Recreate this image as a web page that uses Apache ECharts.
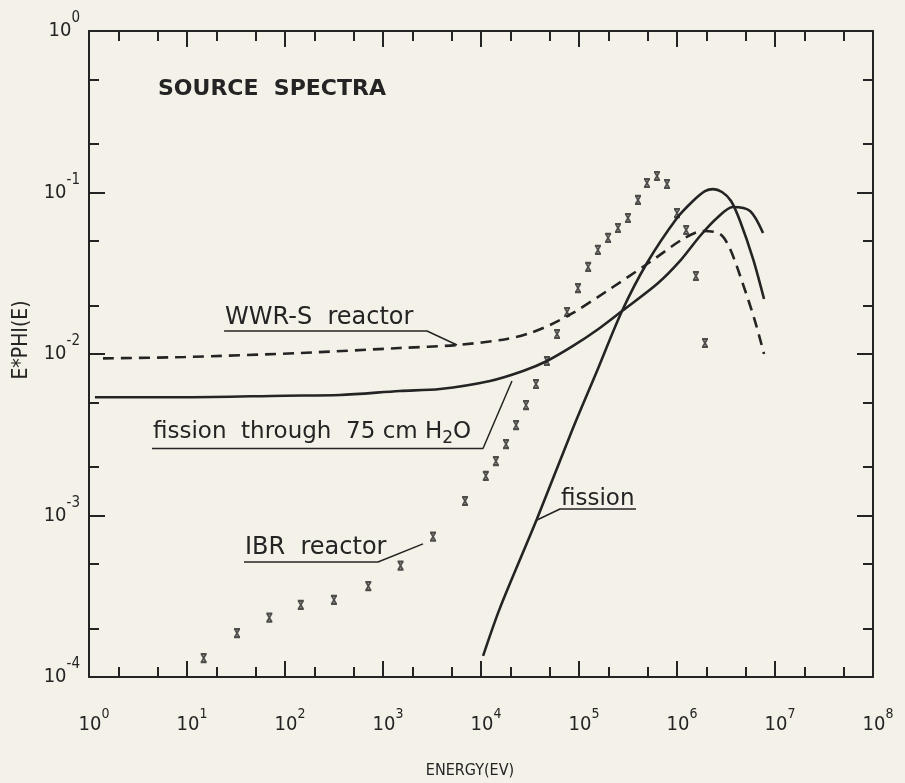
<!DOCTYPE html>
<html>
<head>
<meta charset="utf-8">
<script src="https://cdn.jsdelivr.net/npm/echarts@6/dist/echarts.min.js"></script>
<style>
  html, body { margin: 0; padding: 0; background: #f4f1e8; }
  #chart { width: 905px; height: 783px; }
</style>
</head>
<body>
<div id="chart"></div>
<script>
// ---- axis decades and tick positions ----
const xExponents = [0, 1, 2, 3, 4, 5, 6, 7, 8];
const yExponents = [-4, -3, -2, -1, 0];
const xMinorTicks = [2, 5, 20, 50, 200, 500, 2e3, 5e3, 2e4, 5e4, 2e5, 5e5, 2e6, 5e6, 2e7, 5e7];
const yMinorTicks = [2e-4, 5e-4, 2e-3, 5e-3, 2e-2, 5e-2, 0.2, 0.5];

// ---- fission spectrum through 75 cm of water (solid) ----
const waterE   = [1.15, 10, 100, 363, 1480, 3820, 12360, 26850, 47100, 86900, 152700, 274800, 625000, 1.074e6, 1.718e6, 2.56e6, 3.72e6, 5.56e6, 7.55e6];
const waterPhi = [0.0054, 0.0054, 0.00552, 0.00557, 0.0059, 0.00607, 0.00681, 0.00785, 0.00905, 0.01122, 0.01408, 0.01846, 0.0271, 0.0377, 0.0538, 0.0695, 0.0813, 0.0768, 0.0561];

// ---- bare fission spectrum (solid) ----
const fissionE   = [1.05e4, 1.56e4, 3.72e4, 86900, 152700, 274800, 494000, 1.0e6, 1.456e6, 1.93e6, 2.33e6, 2.88e6, 3.56e6, 4.40e6, 5.97e6, 7.73e6];
const fissionPhi = [1.35e-4, 2.67e-4, 9.5e-4, 3.48e-3, 7.85e-3, 0.01846, 0.0366, 0.0695, 0.0886, 0.102, 0.105, 0.1007, 0.0886, 0.0666, 0.0388, 0.0219];

// ---- WWR-S reactor spectrum (dashed) ----
const wwrE   = [1.39, 9.5, 141, 1480, 5690, 18400, 31600, 50600, 86900, 193000, 530000, 1.15e6, 1.84e6, 2.75e6, 3.48e6, 4.71e6, 6.25e6, 7.73e6];
const wwrPhi = [0.0094, 0.00958, 0.01014, 0.01089, 0.01137, 0.01239, 0.01349, 0.01512, 0.01795, 0.02455, 0.0371, 0.0515, 0.0578, 0.0553, 0.0447, 0.0271, 0.016, 0.01];

// ---- IBR reactor spectrum (points) ----
const ibrE   = [14.8, 32.4, 69.2, 145, 316, 708, 1510, 3240, 6870, 1.12e4, 1.42e4, 1.80e4, 2.28e4, 2.88e4, 3.64e4, 4.71e4, 5.97e4, 7.55e4, 9.77e4, 1.24e5, 1.56e5, 1.98e5, 2.50e5, 3.16e5, 4.0e5, 4.94e5, 6.25e5, 7.91e5, 1.0e6, 1.24e6, 1.56e6, 1.93e6];
const ibrPhi = [1.31e-4, 1.87e-4, 2.33e-4, 2.8e-4, 3.0e-4, 3.65e-4, 4.9e-4, 7.4e-4, 1.23e-3, 1.76e-3, 2.17e-3, 2.77e-3, 3.63e-3, 4.83e-3, 6.52e-3, 9.05e-3, 1.33e-2, 1.82e-2, 2.56e-2, 3.46e-2, 4.41e-2, 5.23e-2, 6.03e-2, 6.95e-2, 8.99e-2, 0.1145, 0.1265, 0.1129, 0.0746, 0.0586, 0.0304, 0.0117];

// ---- curve captions: underline + leader to the curve, in data units ----
const wwrLeader     = [[23.9, 0.01387], [2812, 0.01387], [5690, 0.01137]];
const waterLeader   = [[4.39, 2.6e-3], [10480, 2.6e-3], [20700, 6.81e-3]];
const ibrLeader     = [[38.2, 5.15e-4], [889, 5.15e-4], [2559, 6.67e-4]];
const fissionLeader = [[63970, 1.097e-3], [381900, 1.097e-3], [63970, 1.097e-3], [37250, 9.38e-4]];

const ink = '#242424';
const paper = '#f4f1e8';
const numFont = "'Liberation Sans Narrow','DejaVu Sans Condensed','Liberation Sans',sans-serif";
const textFont = "'DejaVu Sans',sans-serif";

const pairs = (xs, ys) => xs.map((x, i) => [x, ys[i]]);

function powerLabel(exponents) {
  return v => {
    const e = Math.round(Math.log10(v));
    return exponents.indexOf(e) >= 0 ? '{b|10}{s|' + e + '}' : '';
  };
}

const frame = { color: ink, width: 2 };

function logAxis(pos, min, max, split, label) {
  return {
    type: 'log', logBase: 10, min: min, max: max, position: pos, splitNumber: split,
    axisLine: { show: true, onZero: false, lineStyle: frame },
    axisTick: { show: true, inside: true, length: 16, lineStyle: frame },
    minorTick: { show: false },
    splitLine: { show: false },
    axisLabel: label || { show: false }
  };
}

function minorAxis(pos, min, max, values) {
  return {
    type: 'value', min: min, max: max, position: pos,
    axisLine: { show: false, onZero: false },
    axisTick: { show: true, inside: true, length: 10, lineStyle: frame,
                customValues: values.map(v => Math.log10(v)) },
    axisLabel: { show: false },
    splitLine: { show: false }
  };
}

const xLabel = {
  show: true, margin: 30, showMinLabel: true, showMaxLabel: true,
  formatter: powerLabel(xExponents),
  padding: [0, 0, 0, 10],
  rich: {
    b: { fontFamily: numFont, fontSize: 20, color: ink, lineHeight: 36 },
    s: { fontFamily: numFont, fontSize: 14, color: ink, lineHeight: 14, verticalAlign: 'top' }
  }
};
const yLabel = {
  show: true, margin: 9, showMinLabel: true, showMaxLabel: true,
  formatter: powerLabel(yExponents),
  rich: {
    b: { fontFamily: numFont, fontSize: 20, color: ink, lineHeight: 40 },
    s: { fontFamily: numFont, fontSize: 15, color: ink, lineHeight: 12, verticalAlign: 'top' }
  }
};

const xSymbol = 'path://M0,0L8,0M1,0L7,10M7,0L1,10M0,10L8,10';

function leaderSeries(path) {
  return {
    type: 'line', xAxisIndex: 0, yAxisIndex: 0, data: path,
    showSymbol: false, symbol: 'none', silent: true, smooth: false,
    lineStyle: { color: ink, width: 1.5 }, z: 3
  };
}

function curve(name, xs, ys, extra) {
  return {
    name: name, type: 'line', xAxisIndex: 0, yAxisIndex: 0,
    data: pairs(xs, ys), smooth: 0.3, showSymbol: false, symbol: 'none',
    lineStyle: Object.assign({ color: ink, width: 2.6 }, extra || {}), z: 4
  };
}

const chart = echarts.init(document.getElementById('chart'), null, { renderer: 'canvas' });

chart.setOption({
  backgroundColor: paper,
  animation: false,
  grid: { left: 89, right: 32, top: 31, bottom: 106 },
  xAxis: [
    logAxis('bottom', 1, 1e8, 8, xLabel),
    minorAxis('bottom', 0, 8, xMinorTicks),
    logAxis('top', 1, 1e8, 8),
    minorAxis('top', 0, 8, xMinorTicks)
  ],
  yAxis: [
    logAxis('left', 1e-4, 1, 4, yLabel),
    minorAxis('left', -4, 0, yMinorTicks),
    logAxis('right', 1e-4, 1, 4),
    minorAxis('right', -4, 0, yMinorTicks)
  ],
  series: [
    curve('fission through 75 cm H2O', waterE, waterPhi),
    curve('fission', fissionE, fissionPhi),
    curve('WWR-S reactor', wwrE, wwrPhi, { type: [11, 7] }),
    {
      name: 'IBR reactor', type: 'scatter', xAxisIndex: 0, yAxisIndex: 0,
      data: pairs(ibrE, ibrPhi), symbol: xSymbol, symbolSize: [6, 8],
      itemStyle: { color: 'rgba(0,0,0,0)', borderColor: ink, borderWidth: 1.9 }, z: 5
    },
    leaderSeries(wwrLeader),
    leaderSeries(waterLeader),
    leaderSeries(ibrLeader),
    leaderSeries(fissionLeader)
  ]
});

// captions sit on their underlines
const toPx = p => chart.convertToPixel({ xAxisIndex: 0, yAxisIndex: 0 }, p);
function caption(path, text, size, dy, rich) {
  const a = toPx(path[0]);
  return {
    type: 'text', left: a[0] + 1, top: a[1] - size * 1.18 + dy, z: 10,
    style: { text: text, fill: ink, fontFamily: textFont, fontSize: size, rich: rich }
  };
}

chart.setOption({
  graphic: [
    {
      type: 'text', left: 158, top: 78, z: 10,
      style: { text: 'SOURCE  SPECTRA', fill: ink, fontFamily: textFont, fontSize: 22, fontWeight: 'bold' }
    },
    caption(wwrLeader, 'WWR-S  reactor', 24, 3),
    caption(waterLeader, '{m|fission  through  75 cm H}{u|2}{m|O}', 23, -1, {
      m: { fontFamily: textFont, fontSize: 23, fill: ink, lineHeight: 30 },
      u: { fontFamily: textFont, fontSize: 17, fill: ink, lineHeight: 14, verticalAlign: 'bottom' }
    }),
    caption(ibrLeader, 'IBR  reactor', 24, 2),
    caption(fissionLeader, 'fission', 23, 6),
    {
      type: 'text', x: 22, y: 340, rotation: Math.PI / 2, z: 10,
      style: { text: 'E*PHI(E)', fill: ink, fontFamily: numFont, fontSize: 21,
               align: 'center', verticalAlign: 'middle' }
    },
    {
      type: 'text', x: 470, y: 771, z: 10,
      style: { text: 'ENERGY(EV)', fill: ink, fontFamily: numFont, fontSize: 16,
               align: 'center', verticalAlign: 'middle' }
    }
  ]
});
</script>
</body>
</html>
